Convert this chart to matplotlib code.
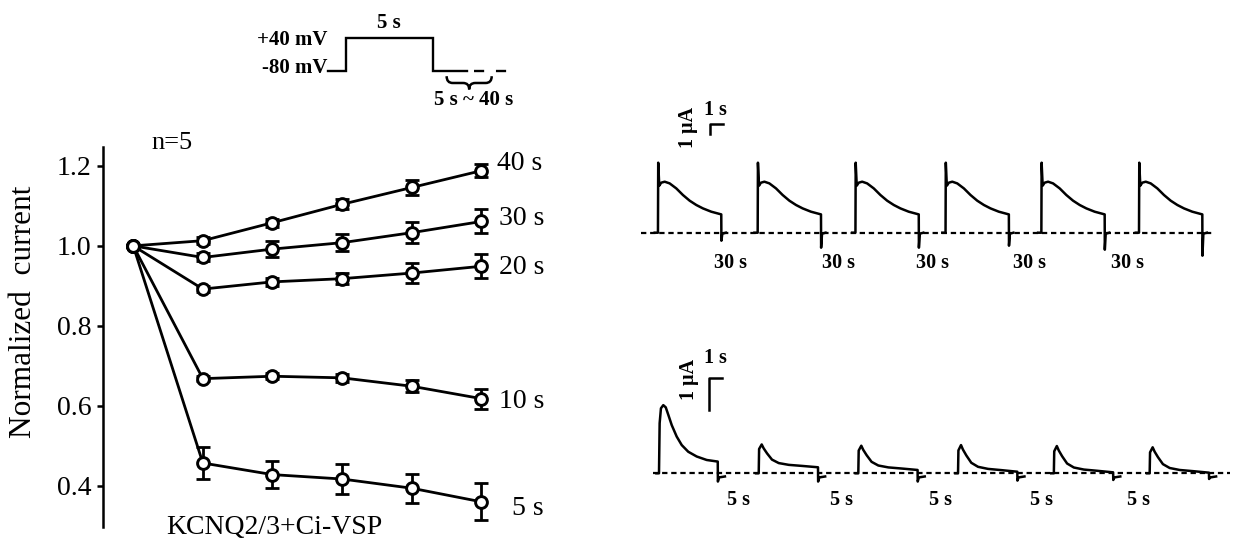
import numpy as np
import matplotlib
matplotlib.use("Agg")
import matplotlib.pyplot as plt
from matplotlib.path import Path
from matplotlib.patches import PathPatch

plt.rcParams['font.family'] = ['Liberation Serif', 'DejaVu Serif']

# ---- summary data (normalized current vs. sweep) ----
sweep_idx = [0, 1, 2, 3, 4, 5]
interval_labels = ['40 s', '30 s', '20 s', '10 s', '5 s']
mean_40 = [1.0, 1.013, 1.058, 1.104, 1.146, 1.188]
sem_40 = [0, 0.008, 0.010, 0.013, 0.018, 0.016]
mean_30 = [1.0, 0.971, 0.992, 1.008, 1.033, 1.061]
sem_30 = [0, 0.010, 0.020, 0.022, 0.027, 0.030]
mean_20 = [1.0, 0.892, 0.910, 0.918, 0.932, 0.949]
sem_20 = [0, 0.007, 0.010, 0.014, 0.025, 0.030]
mean_10 = [1.0, 0.668, 0.674, 0.670, 0.649, 0.618]
sem_10 = [0, 0.007, 0.008, 0.010, 0.015, 0.025]
mean_5 = [1.0, 0.457, 0.428, 0.417, 0.394, 0.360]
sem_5 = [0, 0.040, 0.033, 0.038, 0.036, 0.046]
y_ticks = [0.4, 0.6, 0.8, 1.0, 1.2]
# label offsets (pixels) from last point
label_dx = [16, 18, 18, 18, 31]
label_dy = [7, 3, -1, -3, -7]

# ---- stimulus protocol ----
stim_t = [-1.0, 0, 0, 5, 5, 6.95]
stim_v = [-80, -80, 40, 40, -80, -80]
stim_dash_t = [7.35, 9.35]

# ---- example traces ----
# top: 30 s interval; one shared waveform (s, uA)
top_wave_t = [0, 0.02, 0.10, 0.25, 0.52, 0.90, 1.41, 1.92, 2.44, 2.95, 3.46, 4.10, 4.87]
top_wave_i = [0, 7.0, 4.7, 5.0, 5.1, 4.93, 4.43, 3.77, 3.2, 2.77, 2.43, 2.1, 1.83]
top_onsets = [2.15, 9.82, 17.34, 24.27, 31.64, 39.15]
top_tails = [-0.8, -1.5, -1.5, -1.3, -1.7, -2.3]
top_label_x = [7.75, 16.0, 23.23, 30.75, 38.27]

# bottom: 5 s interval
bot_first_t = [0, 0.05, 0.15, 0.33, 0.52, 0.72, 0.98, 1.36, 1.75, 2.25, 2.90, 3.67, 4.52]
bot_first_i = [0, 1.58, 2.05, 2.15, 2.08, 1.84, 1.52, 1.16, 0.89, 0.68, 0.53, 0.42, 0.37]
bot_shape_t = [0.03, 0.23, 0.38, 0.64, 1.02, 1.54, 2.31, 3.33, 4.56]
bot_shape_n = [0.80, 1.0, 0.83, 0.61, 0.336, 0.184, 0.106, 0.06, 0.0]
bot_peaks = [0.91, 0.87, 0.89, 0.86, 0.82]
bot_ends = [0.19, 0.105, 0.05, 0.03, 0.02]
bot_onsets = [2.23, 9.90, 17.56, 25.23, 32.60, 39.97]
bot_tails = [-0.26, -0.26, -0.26, -0.23, -0.21, -0.18]
bot_label_x = [8.33, 16.23, 23.9, 31.62, 39.08]

W, H = 1233, 549
fig = plt.figure(figsize=(W / 100, H / 100), dpi=100)


def px_axes(x0, y0, x1, y1):
    # axes from pixel box (top-left origin)
    return fig.add_axes([x0 / W, 1 - y1 / H, (x1 - x0) / W, (y1 - y0) / H])


# ---------------- main summary plot ----------------
ax = px_axes(103.3, 146.7, 551, 527)
means = [mean_40, mean_30, mean_20, mean_10, mean_5]
sems = [sem_40, sem_30, sem_20, sem_10, sem_5]
for m, s, lab, dx, dy in zip(means, sems, interval_labels, label_dx, label_dy):
    ax.errorbar(sweep_idx, m, yerr=s, fmt='none', ecolor='black', elinewidth=2,
                capsize=5, capthick=2, zorder=2)
    ax.plot(sweep_idx, m, color='black', lw=2, marker='o', ms=8.5, mew=2.1,
            mfc='white', mec='black', zorder=3)
    ax.annotate(lab, xy=(sweep_idx[-1], m[-1]), xytext=(dx, dy), textcoords='offset pixels',
                ha='left', va='center', fontsize=20)
ax.set_xlim(-0.43, 6.0)
ax.set_ylim(0.297, 1.248)
ax.set_yticks(y_ticks)
ax.set_yticklabels(['%.1f' % v for v in y_ticks], fontsize=20)
ax.set_xticks([])
for side in ['top', 'right', 'bottom']:
    ax.spines[side].set_visible(False)
ax.spines['left'].set_linewidth(1.8)
ax.tick_params(axis='y', direction='out', length=4.5, width=1.8, pad=4)
ax.patch.set_alpha(0)

fig.text(24 / W, 1 - 312 / H, 'Normalized  current', rotation=90, ha='center', va='center', fontsize=22.5)
fig.text(172 / W, 1 - 143 / H, 'n=5', ha='center', va='center', fontsize=19)
fig.text(274 / W, 1 - 528 / H, 'KCNQ2/3+Ci-VSP', ha='center', va='center', fontsize=20)

# ---------------- stimulus protocol ----------------
sx = px_axes(300, 10, 530, 115)
sx.plot(stim_t, stim_v, color='black', lw=1.7, solid_joinstyle='miter')
sx.plot(stim_dash_t, [-80, -80], color='black', lw=1.7, linestyle=(0, (4.3, 5.0)))
sx.set_xlim(-2.626, 10.59)
sx.set_ylim(-241.1, 140.7)
sx.axis('off')
sx.text(-1.07, 31, '+40 mV', ha='right', va='center', fontsize=15, fontweight='bold')
sx.text(-1.07, -72, '-80 mV', ha='right', va='center', fontsize=15, fontweight='bold')
sx.text(2.5, 92, '5 s', ha='center', va='center', fontsize=15, fontweight='bold')
sx.text(7.33, -188, '5 s ~ 40 s', ha='center', va='center', fontsize=15, fontweight='bold')

# curly brace under the interval
bx0, bx1, btop, bmid, btip = 5.8, 8.39, -100.0, -124.7, -148.0
bxm = (bx0 + bx1) / 2
q = 0.35
verts = [(bx0, btop), (bx0, bmid), (bx0 + q, bmid), (bxm - q, bmid), (bxm, bmid), (bxm, btip),
         (bxm, bmid), (bxm + q, bmid), (bx1 - q, bmid), (bx1, bmid), (bx1, btop)]
codes = [Path.MOVETO, Path.CURVE3, Path.CURVE3, Path.LINETO, Path.CURVE3, Path.CURVE3,
         Path.CURVE3, Path.CURVE3, Path.LINETO, Path.CURVE3, Path.CURVE3]
sx.add_patch(PathPatch(Path(verts, codes), fill=False, lw=1.8, edgecolor='black'))

# ---------------- traces: 30 s interval ----------------
tx = px_axes(630, 90, 1233, 280)
tx.plot([0.83, 44.9], [0, 0], color='black', lw=1.6, linestyle=(0, (2.4, 1.7)))
for on, tail in zip(top_onsets, top_tails):
    t = [-0.25] + top_wave_t + [top_wave_t[-1] + 0.01, top_wave_t[-1] + 0.08, top_wave_t[-1] + 0.35]
    i = [0] + top_wave_i + [tail, -0.1, 0]
    tx.plot(np.array(t) + on, i, color='black', lw=1.8)
for lx in top_label_x:
    tx.text(lx, -3.0, '30 s', ha='center', va='center', fontsize=14.5, fontweight='bold')
sb_x, sb_y = 6.13, 9.83
tx.plot([sb_x, sb_x, sb_x + 1], [sb_y, sb_y + 1, sb_y + 1], color='black', lw=1.8)
tx.text(4.43, 10.5, '1 μA', rotation=90, ha='center', va='center', fontsize=14.5, fontweight='bold')
tx.text(6.6, 12.27, '1 s', ha='center', va='center', fontsize=14.5, fontweight='bold')
tx.set_xlim(0, 46.38)
tx.set_ylim(-4.73, 14.27)
tx.axis('off')

# ---------------- traces: 5 s interval ----------------
bx = px_axes(630, 330, 1233, 520)
bx.plot([1.79, 46.15], [0, 0], color='black', lw=1.6, linestyle=(0, (2.4, 1.7)))
for k, on in enumerate(bot_onsets):
    if k == 0:
        t = list(bot_first_t)
        i = list(bot_first_i)
    else:
        pk, en = bot_peaks[k - 1], bot_ends[k - 1]
        t = [0] + bot_shape_t
        i = [0] + [en + n * (pk - en) for n in bot_shape_n]
    te = t[-1]
    t = [-0.2] + t + [te + 0.01, te + 0.1, te + 0.55]
    i = [0] + i + [bot_tails[k], -0.13, -0.1]
    bx.plot(np.array(t) + on, i, color='black', lw=1.8)
for lx in bot_label_x:
    bx.text(lx, -0.84, '5 s', ha='center', va='center', fontsize=14.5, fontweight='bold')
sb_x, sb_y = 6.06, 2.0
bx.plot([sb_x, sb_x, sb_x + 1], [sb_y, sb_y + 1, sb_y + 1], color='black', lw=1.8)
bx.text(4.5, 2.97, '1 μA', rotation=90, ha='center', va='center', fontsize=14.5, fontweight='bold')
bx.text(6.6, 3.64, '1 s', ha='center', va='center', fontsize=14.5, fontweight='bold')
bx.set_xlim(0, 46.38)
bx.set_ylim(-1.473, 4.52)
bx.axis('off')

fig.savefig('out.png', dpi=100)
